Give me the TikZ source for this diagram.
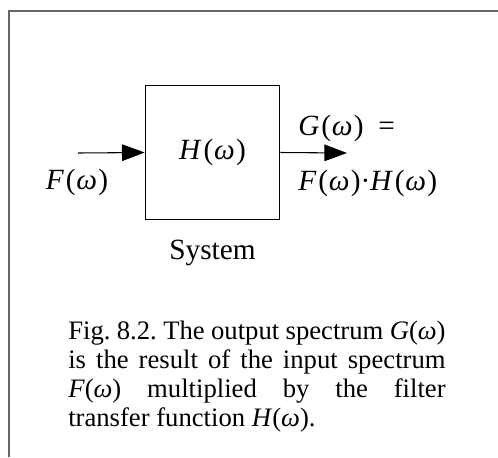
\documentclass[tikz,border=0pt]{standalone}
\usepackage{fontspec}
\setmainfont{Liberation Serif}
\usetikzlibrary{arrows.meta, positioning}

\newcommand{\om}{\textit{ω}} % italic omega
\newcommand{\fn}[1]{\textit{#1}(\om)} % F(omega) etc. in the caption
\newcommand{\fnd}[1]{\textit{#1}\kern1.5pt(\kern0.5pt\om\kern1pt)} % wider, for diagram labels
\newcommand{\capsetup}{\frenchspacing\hbadness=10000 } % caption spacing

\begin{document}
\begin{tikzpicture}[
    x=0.75pt, y=-0.75pt, % pixel-like units
    >={Triangle[length=17pt, width=12.5pt]}, % Set default arrow tip style
    signal/.style={->, line width=0.8pt}, % Style for signal lines
    sysbox/.style={draw, line width=0.8pt, minimum width=101pt, minimum height=100pt, inner sep=0pt},
    lbl/.style={font=\fontsize{22}{26}\selectfont, inner sep=0pt},
    caption/.style={font=\fontsize{20}{21.6}\selectfont, text width=283pt, align=justify, inner sep=0pt}
]

    % --- Frame ---
    \useasboundingbox (0,0) rectangle (498,457);
    \draw[line width=0.8pt, gray!80!black] (9,457) -- (9,11) -- (498,11);

    % --- System block ---
    \node[sysbox] (sys) at (212.5,152.5) {};
    \node[lbl] (h) at (sys.center) {\fnd{H}};
    \node[lbl, below=15pt of sys] (name) {System};

    % --- Signals ---
    \coordinate (in) at (78,153);
    \coordinate (out) at (347,153);
    \draw[signal] (in) -- (sys.west);
    \draw[signal] (sys.east) -- (out);

    \node[lbl] (f) at (77,182) {\fnd{F}};
    \node[lbl, anchor=west] (g) at (298,128) {\fnd{G} \ =};
    \node[lbl, anchor=west] (fh) at (298,183) {\fnd{F}·\fnd{H}};

    % --- Caption ---
    \node[caption, anchor=north west] (cap) at (68,321) {\capsetup Fig. 8.2. The output spectrum \fn{G}\linebreak is the result of the input \mbox{spectrum}\linebreak \fn{F} multiplied by the filter\linebreak \mbox{transfer} function \fn{H}.};

\end{tikzpicture}
\end{document}
